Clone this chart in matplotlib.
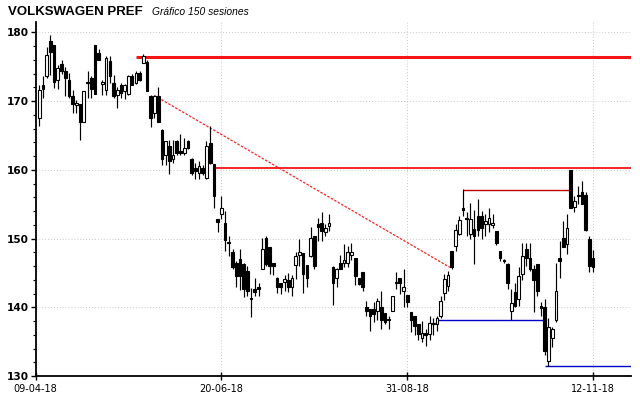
import numpy as np
import matplotlib
matplotlib.use('Agg')
import matplotlib.pyplot as plt
from matplotlib.ticker import MultipleLocator

# daily candles, 150 sessions (09-04-18 .. 12-11-18)
opens = [167.5, 172.4, 173.6, 178.7, 178.2, 173.1, 175.4, 174.3, 173.1, 170.7,
         169.4, 169.5, 167.0, 172.8, 173.3, 178.2, 177.0, 172.5, 171.6, 175.8,
         172.6, 170.9, 172.4, 171.4, 171.0, 173.6, 172.6, 174.1, 175.6, 175.7,
         170.7, 168.3, 170.7, 165.8, 162.2, 163.4, 161.6, 164.2, 162.7, 162.5,
         164.2, 161.6, 160.3, 159.6, 160.3, 158.8, 163.9, 160.8, 152.9, 153.5,
         152.3, 149.4, 148.0, 146.5, 147.0, 146.3, 145.3, 141.4, 142.7, 143.0,
         145.6, 150.1, 148.8, 146.5, 144.3, 143.5, 143.7, 143.9, 143.0, 146.2,
         147.6, 147.9, 146.1, 147.4, 150.4, 152.1, 152.2, 150.9, 151.8, 145.9,
         144.2, 146.4, 146.5, 146.5, 147.6, 147.2, 144.3, 145.2, 140.1, 139.8,
         139.7, 139.5, 140.0, 139.2, 138.3, 139.5, 143.5, 144.2, 142.4, 141.8,
         139.3, 138.8, 137.6, 135.6, 136.3, 136.1, 137.5, 137.6, 138.8, 142.1,
         143.1, 148.2, 148.9, 150.6, 154.5, 153.0, 150.6, 151.4, 153.3, 153.3,
         152.1, 152.1, 152.0, 151.1, 148.2, 146.9, 146.3, 139.5, 142.2, 141.2,
         144.8, 148.5, 147.2, 145.6, 146.3, 140.2, 140.0, 132.2, 135.6, 138.1,
         147.1, 150.1, 149.2, 160.0, 154.6, 156.3, 156.7, 156.4, 149.9, 147.2]
highs = [172.4, 173.6, 177.8, 179.6, 178.2, 175.3, 176.0, 175.0, 174.1, 171.6,
         170.2, 169.5, 171.5, 174.3, 173.7, 178.2, 177.6, 173.1, 176.5, 176.5,
         173.8, 172.1, 172.6, 172.5, 173.8, 173.9, 174.3, 174.4, 176.8, 176.0,
         170.9, 170.9, 172.0, 166.0, 164.2, 164.4, 164.4, 164.4, 165.2, 164.6,
         164.4, 161.7, 161.0, 161.3, 160.7, 164.2, 166.3, 160.8, 152.9, 156.2,
         154.0, 150.3, 148.5, 146.8, 148.5, 146.5, 146.0, 142.8, 144.2, 143.6,
         150.1, 150.4, 148.8, 146.5, 144.4, 143.6, 144.7, 145.0, 144.7, 148.1,
         149.9, 147.9, 146.1, 151.7, 150.4, 153.0, 153.8, 152.1, 153.5, 146.0,
         145.7, 147.6, 149.2, 148.9, 149.3, 147.2, 144.3, 145.2, 140.9, 139.8,
         140.8, 141.3, 142.4, 139.2, 138.8, 141.7, 145.2, 144.3, 145.6, 141.8,
         139.3, 138.8, 137.6, 138.0, 136.8, 138.8, 138.5, 138.8, 141.7, 144.8,
         145.3, 148.2, 152.1, 153.3, 157.2, 153.8, 155.2, 154.2, 155.8, 154.0,
         153.5, 154.5, 153.6, 151.1, 148.2, 147.0, 146.4, 142.7, 143.5, 145.9,
         149.3, 149.4, 149.4, 146.1, 146.3, 140.8, 141.2, 138.4, 137.1, 146.4,
         149.7, 152.6, 153.5, 160.0, 156.2, 157.6, 158.3, 156.7, 150.3, 148.4]
lows = [166.4, 170.4, 173.3, 173.8, 171.9, 171.8, 174.0, 170.7, 170.4, 168.3,
        168.3, 164.4, 167.0, 170.4, 170.4, 171.0, 176.0, 170.9, 170.9, 172.6,
        170.4, 169.0, 170.4, 170.3, 170.9, 172.3, 172.5, 172.9, 175.5, 171.4,
        166.2, 167.6, 167.0, 160.7, 160.7, 159.4, 161.0, 162.2, 162.2, 162.2,
        163.0, 159.3, 158.6, 158.6, 159.3, 158.7, 160.8, 154.5, 150.9, 152.8,
        148.2, 147.5, 145.6, 142.9, 142.5, 141.5, 141.7, 138.6, 141.7, 141.7,
        145.5, 146.0, 144.9, 144.7, 142.1, 142.0, 142.3, 142.2, 141.6, 144.1,
        146.0, 142.1, 142.9, 147.3, 145.5, 149.7, 149.7, 150.4, 151.1, 140.3,
        142.9, 145.5, 145.8, 145.8, 146.9, 143.2, 143.3, 142.4, 138.7, 136.6,
        137.8, 138.2, 136.9, 137.6, 136.9, 139.4, 142.7, 141.9, 140.1, 140.0,
        136.4, 135.9, 135.2, 134.9, 134.4, 135.2, 136.0, 136.6, 138.5, 141.0,
        142.4, 145.5, 148.2, 150.5, 153.3, 150.4, 149.9, 146.3, 150.4, 149.9,
        150.4, 150.9, 151.5, 149.0, 146.8, 146.4, 142.7, 138.2, 140.1, 140.2,
        143.9, 146.0, 145.3, 139.3, 141.7, 138.8, 133.0, 131.5, 134.2, 137.8,
        144.3, 148.8, 147.7, 154.5, 153.8, 155.0, 155.0, 151.1, 145.1, 145.1]
closes = [171.6, 171.8, 176.7, 177.2, 172.8, 174.8, 174.3, 173.3, 170.7, 169.5,
          169.7, 167.0, 171.5, 172.6, 171.8, 171.0, 176.0, 172.8, 176.2, 173.6,
          170.7, 171.6, 171.2, 172.3, 173.7, 172.4, 174.1, 173.1, 176.6, 171.5,
          167.5, 170.7, 167.0, 161.5, 164.2, 161.3, 162.2, 162.5, 162.4, 163.1,
          163.1, 159.6, 159.8, 160.5, 159.6, 163.4, 161.0, 156.2, 152.4, 154.5,
          149.8, 149.3, 145.8, 144.6, 144.5, 142.6, 142.4, 141.2, 142.2, 142.6,
          148.5, 146.3, 146.0, 146.0, 142.9, 143.0, 144.1, 142.9, 144.2, 147.4,
          148.1, 144.8, 144.2, 150.1, 146.0, 151.7, 151.1, 151.6, 152.3, 143.6,
          145.6, 145.6, 146.9, 148.1, 148.0, 144.5, 143.4, 143.0, 139.5, 138.8,
          139.0, 140.9, 138.2, 137.9, 138.2, 141.6, 143.6, 143.5, 142.9, 140.8,
          138.1, 137.3, 136.1, 136.3, 135.9, 137.7, 137.7, 138.5, 140.9, 144.1,
          144.7, 145.8, 151.2, 152.7, 154.2, 152.8, 152.8, 150.4, 151.3, 151.6,
          152.6, 153.0, 152.3, 149.4, 147.1, 146.7, 143.6, 140.6, 140.2, 144.6,
          147.5, 147.1, 145.5, 144.0, 142.4, 139.9, 133.7, 137.1, 136.9, 142.4,
          146.8, 148.8, 151.6, 154.5, 155.4, 156.2, 155.0, 151.3, 146.0, 145.9]

date_ticks = [-1, 49, 99, 149]
date_labels = ['09-04-18', '20-06-18', '31-08-18', '12-11-18']
price_ticks = [130, 140, 150, 160, 170, 180]

# drawn lines: start session, end session, price
resist_main = [26, 160, 176.4]
resist_2 = [47, 160, 160.2]
resist_3 = [114, 143, 157.0]
support_1 = [107, 136, 138.1]
support_2 = [136, 160, 131.4]
trend = [31, 110.5, 170.8, 145.8]   # x0, x1, y0, y1

fig = plt.figure(figsize=(6.4, 3.98), dpi=100)
ax = fig.add_axes([35.5 / 640, 22 / 398, 595.5 / 640, 354 / 398])

x = np.arange(len(opens))
o = np.array(opens)
c = np.array(closes)
up = c >= o
bottom = np.minimum(o, c)
height = np.maximum(np.abs(c - o), 0.15)

# lines drawn under the candles
ax.hlines(resist_main[2], resist_main[0], resist_main[1], color='#f41414', lw=2.2, zorder=2)
ax.hlines(resist_2[2], resist_2[0], resist_2[1], color='#f00000', lw=1.2, zorder=2)
ax.hlines(resist_3[2], resist_3[0], resist_3[1], color='#c00000', lw=1.0, zorder=2)
ax.hlines(support_1[2], support_1[0], support_1[1], color='#0000c8', lw=1.0, zorder=2)
ax.hlines(support_2[2], support_2[0], support_2[1], color='#0000c8', lw=1.0, zorder=2)
ax.plot(trend[:2], trend[2:], color='#ff2020', lw=0.9, ls=(0, (2, 1.2)), zorder=2)

# wicks then bodies
ax.vlines(x, lows, highs, color='black', lw=0.85, zorder=3)
ax.bar(x[up], height[up], bottom=bottom[up], width=0.72, facecolor='white',
       edgecolor='black', lw=0.8, zorder=4)
ax.bar(x[~up], height[~up], bottom=bottom[~up], width=0.72, facecolor='black',
       edgecolor='black', lw=0.8, zorder=4)

ax.set_xlim(-1, 159.2)
ax.set_ylim(130, 181.5)

ax.set_yticks(price_ticks)
ax.yaxis.set_minor_locator(MultipleLocator(2))
ax.set_xticks(date_ticks)
ax.set_xticklabels(date_labels)

ax.grid(True, color='#c8c8c8', lw=0.7, ls=(0, (1, 2)))
ax.set_axisbelow(True)

for s in ['top', 'right']:
    ax.spines[s].set_visible(False)
for s in ['left', 'bottom']:
    ax.spines[s].set_linewidth(1.3)

ax.tick_params(axis='y', which='major', direction='out', length=3.5, width=1, pad=1.5)
ax.tick_params(axis='y', which='minor', direction='out', length=2, width=0.8)
ax.tick_params(axis='x', which='major', direction='inout', length=6, width=1, pad=3)
for t in ax.get_yticklabels():
    t.set_fontfamily('DejaVu Sans')
    t.set_fontweight('bold')
    t.set_fontsize(7.6)
for t in ax.get_xticklabels():
    t.set_fontfamily('DejaVu Sans')
    t.set_fontsize(7)

fig.text(8 / 640, 1 - 12 / 398, 'VOLKSWAGEN PREF', family='Liberation Sans',
         weight='bold', fontsize=9.5, va='center', ha='left')
fig.text(152 / 640, 1 - 12 / 398, 'Gráfico 150 sesiones', family='Liberation Sans',
         style='italic', fontsize=7.4, va='center', ha='left')

fig.savefig('out.png', dpi=100)
